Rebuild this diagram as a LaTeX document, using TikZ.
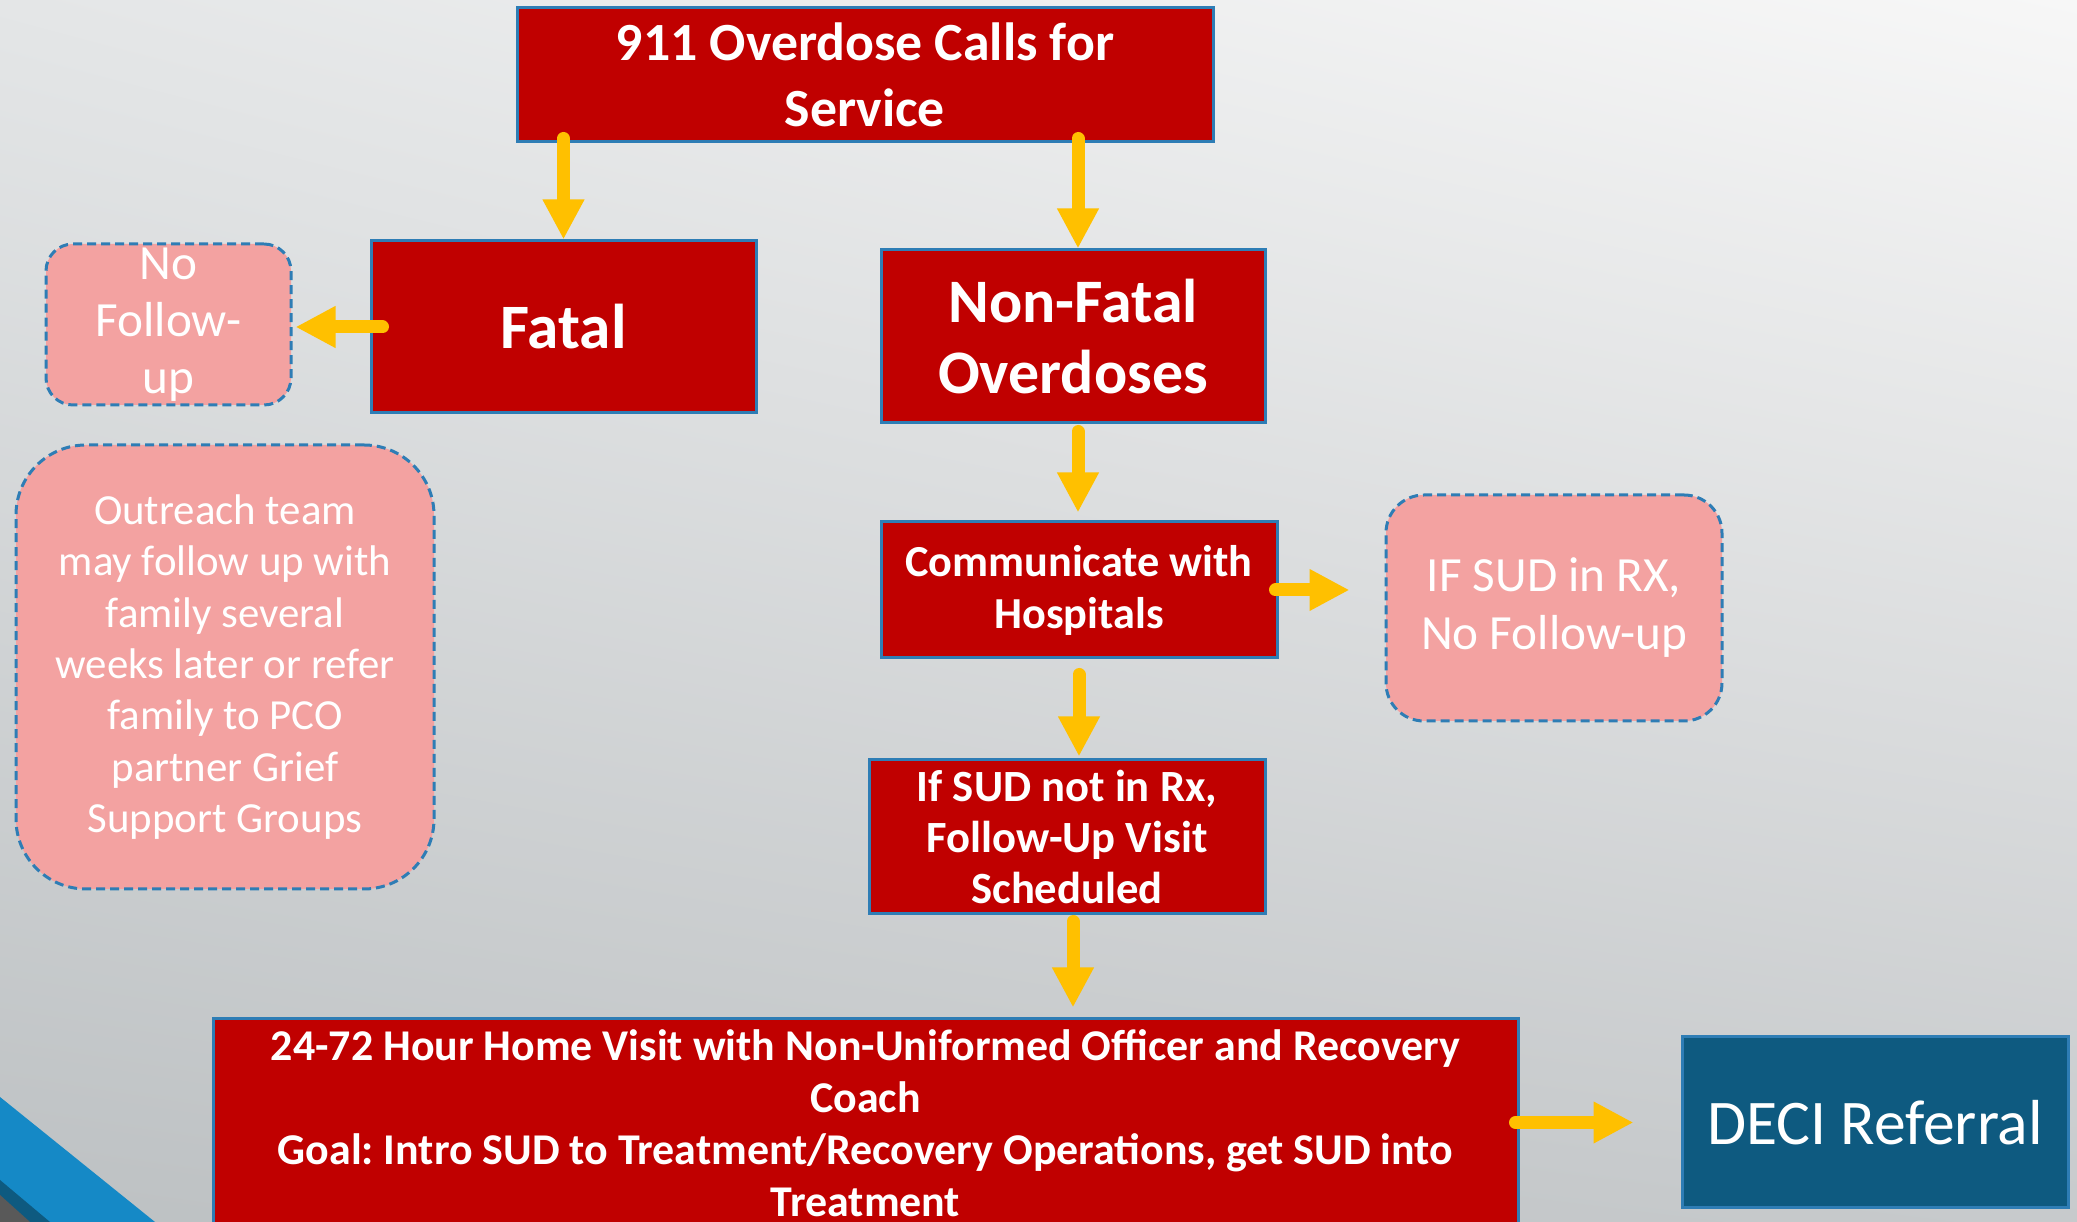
\documentclass[tikz,border=0pt]{standalone}
\usepackage{fontspec}
\setmainfont{Carlito}
\usetikzlibrary{arrows.meta, positioning, shadings}
\frenchspacing

\definecolor{boxred}{HTML}{C00000}
\definecolor{edgeblue}{HTML}{2E7DB5}
\definecolor{softpink}{HTML}{F3A2A1}
\definecolor{arrowgold}{HTML}{FFC000}
\definecolor{deciblue}{HTML}{0E5A80}
\definecolor{slideblue}{HTML}{1589C6}
\definecolor{bgUL}{HTML}{E4E6E7}
\definecolor{bgUR}{HTML}{F7F7F7}
\definecolor{bgLL}{HTML}{BDC1C3}
\definecolor{bgLR}{HTML}{C7CACC}

\tikzset{
  redbox/.style={draw=edgeblue, line width=0.03cm, fill=boxred, text=white, font=\bfseries, align=center, inner sep=0pt},
  pinkbox/.style={draw=edgeblue, line width=0.03cm, dash pattern=on 0.09cm off 0.05cm, fill=softpink, text=white, align=center, inner sep=0pt},
  flow/.style={arrowgold, line width=0.13cm, line cap=round},
}

\begin{document}
\begin{tikzpicture}[>={Triangle[width=0.39cm,length=0.40cm]}]
	% slide background
	\useasboundingbox (0,0) rectangle (20.77,-12.22);
	\shade[upper left=bgUL, upper right=bgUR, lower left=bgLL, lower right=bgLR] (0,0) rectangle (20.77,-12.22);
	\fill[slideblue] (0,-10.97) -- (1.55,-12.22) -- (0,-12.22) -- cycle;
	\fill[deciblue] (0,-11.80) -- (0.50,-12.22) -- (0,-12.22) -- cycle;
	\fill[black!65] (0,-11.95) -- (0.30,-12.22) -- (0,-12.22) -- cycle;

	% boxes
	\node[redbox, minimum width=6.96cm, minimum height=1.34cm, font=\bfseries\fontsize{15.3}{18.6}\selectfont] (calls) at (8.65,-0.75) {911 Overdose Calls for\\Service};
	\node[redbox, minimum width=3.85cm, minimum height=1.72cm, font=\bfseries\fontsize{18}{20}\selectfont] (fatal) at (5.635,-3.27) {Fatal};
	\node[redbox, minimum width=3.84cm, minimum height=1.73cm, font=\bfseries\fontsize{17.6}{20}\selectfont] (nonfatal) at (10.73,-3.365) {Non-Fatal\\Overdoses};
	\node[redbox, minimum width=3.96cm, minimum height=1.36cm, font=\bfseries\fontsize{12.6}{14.8}\selectfont] (hosp) at (10.79,-5.90) {Communicate with\\Hospitals};
	\node[redbox, minimum width=3.96cm, minimum height=1.54cm, font=\bfseries\fontsize{12.7}{14.4}\selectfont] (sched) at (10.67,-8.37) {If SUD not in Rx,\\Follow-Up Visit\\Scheduled};
	\node[redbox, minimum width=13.05cm, minimum height=2.08cm, font=\bfseries\fontsize{12.5}{14.8}\selectfont] (home) at (8.655,-11.23) {24-72 Hour Home Visit with Non-Uniformed Officer and Recovery\\Coach\\Goal: Intro SUD to Treatment/Recovery Operations, get SUD into\\Treatment};
	\node[draw=edgeblue, line width=0.03cm, fill=deciblue, text=white, inner sep=0pt, minimum width=3.86cm, minimum height=1.71cm, font=\fontsize{18.1}{21}\selectfont] (deci) at (18.75,-11.225) {DECI Referral};

	\node[pinkbox, rounded corners=0.27cm, minimum width=2.45cm, minimum height=1.61cm, font=\fontsize{14}{16.2}\selectfont] (nofollow) at (1.685,-3.245) {No\\Follow-\\up};
	\node[pinkbox, rounded corners=0.70cm, minimum width=4.18cm, minimum height=4.44cm, font=\fontsize{12.2}{14.6}\selectfont] (outreach) at (2.25,-6.67) {Outreach team\\may follow up with\\family several\\weeks later or refer\\family to PCO\\partner Grief\\Support Groups};
	\node[pinkbox, rounded corners=0.38cm, minimum width=3.36cm, minimum height=2.26cm, font=\fontsize{14}{16.5}\selectfont] (inrx) at (15.54,-6.08) {IF SUD in RX,\\No Follow-up};

	% connectors
	\draw[flow, ->, shorten <=-0.05cm] (calls.south -| fatal.north) -- (fatal.north);
	\draw[flow, ->, shorten <=-0.05cm] ([xshift=0.05cm]calls.south -| nonfatal.north) -- ([xshift=0.05cm]nonfatal.north);
	\draw[flow, ->, shorten <=-0.13cm, shorten >=0.03cm] (fatal.west) -- (fatal.west -| nofollow.east);
	\draw[flow, ->, shorten <=0.07cm, shorten >=0.08cm] ([xshift=0.05cm]nonfatal.south) -- ([xshift=0.05cm]nonfatal.south |- hosp.north);
	\draw[flow, ->, shorten <=-0.03cm, shorten >=0.35cm] (hosp.east) -- (hosp.east -| inrx.west);
	\draw[flow, ->, shorten <=0.15cm, shorten >=0.02cm] (hosp.south) -- (hosp.south |- sched.north);
	\draw[flow, ->, shorten <=0.06cm, shorten >=0.10cm] ([xshift=0.06cm]sched.south) -- ([xshift=0.06cm]sched.south |- home.north);
	\draw[flow, ->, shorten <=-0.04cm, shorten >=0.47cm] (home.east |- deci.west) -- (deci.west);
\end{tikzpicture}
\end{document}
